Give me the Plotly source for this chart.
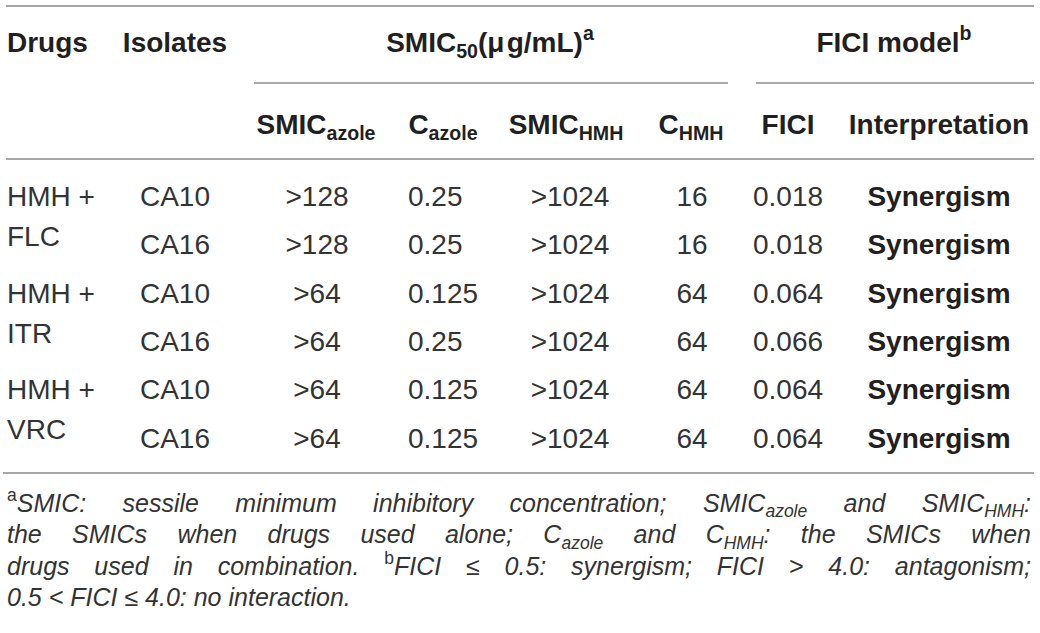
import re
import plotly.graph_objects as go

# table body, one entry per row
drugs = ["HMH + FLC", "HMH + ITR", "HMH + VRC"]
isolates = ["CA10", "CA16", "CA10", "CA16", "CA10", "CA16"]
smic_azole = [">128", ">128", ">64", ">64", ">64", ">64"]
c_azole = ["0.25", "0.25", "0.125", "0.25", "0.125", "0.125"]
smic_hmh = [">1024", ">1024", ">1024", ">1024", ">1024", ">1024"]
c_hmh = ["16", "16", "64", "64", "64", "64"]
fici = ["0.018", "0.018", "0.064", "0.066", "0.064", "0.064"]
interpretation = ["Synergism", "Synergism", "Synergism", "Synergism", "Synergism", "Synergism"]

# header text
top_headers = ["Drugs", "Isolates"]
group_headers = ["SMIC<sub>50</sub>(\u03bc\u200ag/mL)<sup>a</sup>", "FICI model<sup>b</sup>"]
sub_headers = ["SMIC<sub>azole</sub>", "C<sub>azole</sub>", "SMIC<sub>HMH</sub>",
               "C<sub>HMH</sub>", "FICI", "Interpretation"]

footnote_lines = [
    "<sup>a</sup>SMIC: sessile minimum inhibitory concentration; SMIC<sub>azole</sub> and SMIC<sub>HMH</sub>:",
    "the SMICs when drugs used alone; C<sub>azole</sub> and C<sub>HMH</sub>: the SMICs when",
    "drugs used in combination. <sup>b</sup>FICI \u2264 0.5: synergism; FICI &gt; 4.0: antagonism;",
    "0.5 &lt; FICI \u2264 4.0: no interaction.",
]

# layout (px in a 1040x633 frame)
W, H = 1040, 633
LEFT, RIGHT = 7, 1031
FONT = "Liberation Sans, Arial, Helvetica, sans-serif"
INK = "#231f20"
INK_LIGHT = "#333333"
RULE = "#a8a8a8"
BODY = 28
NOTE = 25
HEAD1_Y, HEAD2_Y = 42, 124
ROW0, ROW_STEP = 196, 48.3
SECOND_LINE = 40
NOTE0, NOTE_STEP = 503, 31.3

# Arial / Liberation Sans advance widths, used to spread footnote words
ARIAL = {" ": 278, ".": 278, ",": 278, ":": 278, ";": 278, "<": 584, ">": 584,
         "\u2264": 549, "(": 333, ")": 333, "+": 584}
ARIAL.update(dict.fromkeys("0123456789", 556))
ARIAL.update(zip("ABCDEFGHIJKLMNOPQRSTUVWXYZ",
                 [667, 667, 722, 722, 667, 611, 778, 722, 278, 500, 667, 556, 833,
                  722, 778, 667, 778, 722, 667, 611, 722, 667, 944, 667, 667, 611]))
ARIAL.update(zip("abcdefghijklmnopqrstuvwxyz",
                 [556, 556, 500, 556, 556, 278, 556, 556, 222, 222, 500, 222, 833,
                  556, 556, 556, 556, 333, 500, 278, 556, 500, 722, 500, 500, 500]))


def text_width(s, size):
    s = s.replace("&lt;", "<").replace("&gt;", ">")
    total, scale = 0, 1.0
    for part in re.split(r"(</?su[bp]>)", s):
        if part in ("<sub>", "<sup>"):
            scale = 0.7
        elif part in ("</sub>", "</sup>"):
            scale = 1.0
        else:
            total += sum(ARIAL.get(ch, 556) for ch in part) * scale
    return total * size / 1000


def italic(word):
    # footnote markers stay upright, the rest is set in italics
    word = "<i>" + word + "</i>"
    return re.sub(r"(<sup>.*?</sup>)", r"</i>\1<i>", word).replace("<i></i>", "")


def row_y(i):
    return ROW0 + ROW_STEP * i


def text_trace(xs, ys, texts, size, pos="middle center", bold=False):
    # shift so the cap height is centred on the requested y
    return go.Scatter(
        x=xs, y=[y + 0.108 * size for y in ys],
        text=[f"<b>{t}</b>" if bold else t for t in texts],
        mode="text", textposition=pos, cliponaxis=False,
        textfont=dict(family=FONT, size=size, color=INK if bold else INK_LIGHT),
        hoverinfo="skip", showlegend=False,
    )


fig = go.Figure()
n = len(isolates)
rows = [row_y(i) for i in range(n)]

# headers
fig.add_trace(text_trace([LEFT], [HEAD1_Y], top_headers[:1], BODY, "middle right", bold=True))
fig.add_trace(text_trace([175], [HEAD1_Y], top_headers[1:], BODY, bold=True))
fig.add_trace(text_trace([490, 894], [HEAD1_Y] * 2, group_headers, BODY, bold=True))
fig.add_trace(text_trace([316, 443, 566, 691, 788, 939], [HEAD2_Y] * 6, sub_headers, BODY, bold=True))

# drug combinations span two rows, wrapped over two lines
first = [d.rsplit(" ", 1)[0] for d in drugs]
second = [d.rsplit(" ", 1)[1] for d in drugs]
fig.add_trace(text_trace([LEFT] * len(drugs), rows[::2], first, BODY, "middle right"))
fig.add_trace(text_trace([LEFT] * len(drugs), [y + SECOND_LINE for y in rows[::2]], second, BODY, "middle right"))

# body columns
fig.add_trace(text_trace([175] * n, rows, isolates, BODY))
fig.add_trace(text_trace([317] * n, rows, smic_azole, BODY))
fig.add_trace(text_trace([408] * n, rows, c_azole, BODY, "middle right"))
fig.add_trace(text_trace([570] * n, rows, smic_hmh, BODY))
fig.add_trace(text_trace([692] * n, rows, c_hmh, BODY))
fig.add_trace(text_trace([788] * n, rows, fici, BODY))
fig.add_trace(text_trace([939] * n, rows, interpretation, BODY, bold=True))

# footnote: justified lines, last one left aligned
for k, line in enumerate(footnote_lines):
    y = NOTE0 + NOTE_STEP * k
    if k == len(footnote_lines) - 1:
        fig.add_trace(text_trace([LEFT], [y], [italic(line)], NOTE, "middle right"))
        continue
    words = line.split(" ")
    widths = [text_width(w, NOTE) for w in words]
    gap = (RIGHT - LEFT - sum(widths)) / (len(words) - 1)
    xs, x = [], LEFT
    for w in widths:
        xs.append(x)
        x += w + gap
    fig.add_trace(text_trace(xs, [y] * len(words), [italic(w) for w in words], NOTE, "middle right"))

# horizontal rules
rules = [(6, 1034, 6), (254, 728, 83), (756, 1034, 83), (6, 1034, 159), (3, 1034, 473)]
for x0, x1, y in rules:
    fig.add_shape(type="line", xref="x", yref="y", x0=x0, x1=x1, y0=y, y1=y,
                  line=dict(color=RULE, width=2))

fig.update_xaxes(range=[0, W], visible=False, fixedrange=True)
fig.update_yaxes(range=[H, 0], visible=False, fixedrange=True)
fig.update_layout(
    width=W, height=H,
    margin=dict(l=0, r=0, t=0, b=0, pad=0),
    paper_bgcolor="white", plot_bgcolor="white",
    showlegend=False,
)

# drop the browser's default body margin so the figure sits at the page origin
fig.write_html("out.html", config={"displayModeBar": False},
               post_script="document.body.style.margin='0';document.body.style.overflow='hidden';")
